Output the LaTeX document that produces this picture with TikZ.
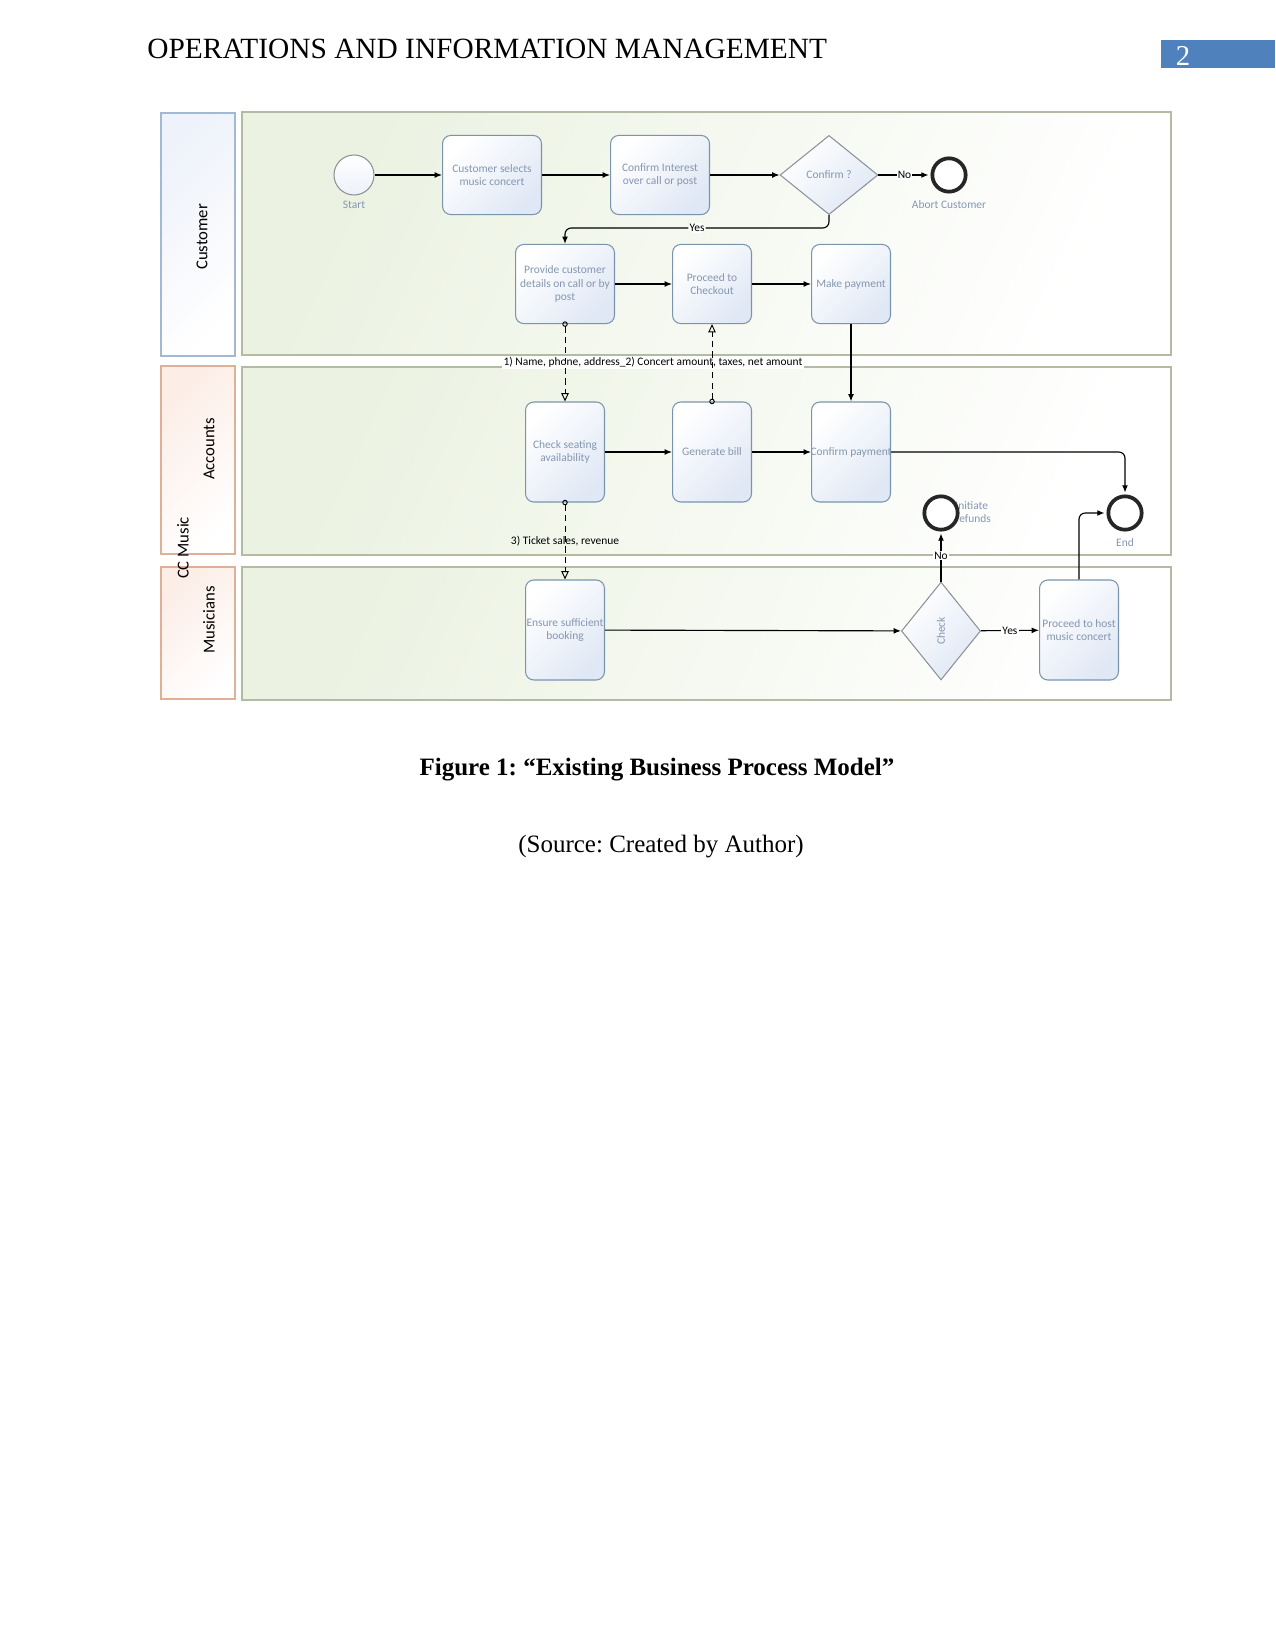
\documentclass[tikz,border=0pt]{standalone}
\usepackage{fontspec}
\setmainfont{Liberation Serif}
\newfontfamily\diagfont{Carlito}
\usetikzlibrary{arrows.meta,positioning,shapes.geometric}

\definecolor{nodetext}{HTML}{8597B0}
\definecolor{boxline}{HTML}{7A94AE}
\definecolor{boxfill}{HTML}{E0E8F5}
\definecolor{poolfill}{HTML}{EBF2E1}
\definecolor{poolline}{HTML}{B3BBA3}
\definecolor{custline}{HTML}{A3B8D3}
\definecolor{custfill}{HTML}{EEF2FA}
\definecolor{deptline}{HTML}{DDB197}
\definecolor{deptfill}{HTML}{FCEDE6}
\definecolor{gateline}{HTML}{8C9198}
\definecolor{hdrblue}{HTML}{4F81BD}

\begin{document}
\frenchspacing
\begin{tikzpicture}[x=0.48pt,y=-0.48pt,>={Latex[length=3.5pt,width=2.8pt]},
  small/.style={font=\diagfont\fontsize{5.5}{6.5}\selectfont},
  task/.style={small,draw=boxline,line width=0.5pt,rounded corners=4pt,
    top color=white,bottom color=boxfill,shading angle=45,text=nodetext,
    align=center,inner sep=1pt,minimum width=37.9pt,minimum height=48pt},
  taskshort/.style={task,minimum height=38pt},
  taskwide/.style={taskshort,minimum width=47.5pt},
  gate/.style={small,diamond,draw=gateline,line width=0.5pt,top color=white,
    bottom color=boxfill,shading angle=45,text=nodetext,inner sep=0pt},
  startev/.style={circle,draw=gateline,line width=0.5pt,top color=white,
    bottom color=boxfill!60,minimum size=19.2pt,inner sep=0pt},
  endev/.style={circle,draw=black!85,line width=1.8pt,fill=white,minimum size=16pt,inner sep=0pt},
  evlbl/.style={small,text=nodetext,inner sep=0pt},
  flowlbl/.style={small,fill=white,inner sep=0.6pt},
  msglbl/.style={small,inner sep=0.6pt},
  flow/.style={->,line width=0.55pt},
  msg/.style={dash pattern=on 3pt off 2pt,line width=0.45pt,
    {Circle[open,length=2.6pt]}-{Triangle[open,length=4pt,width=3.6pt]},shorten <=-1.3pt},
  lanelbl/.style={font=\diagfont\fontsize{8}{9}\selectfont,rotate=90,inner sep=0pt},
  pool/.style={draw=poolline,line width=0.6pt,top color=poolfill,bottom color=white,shading angle=65},
  custlane/.style={draw=custline,line width=0.6pt,top color=custfill,bottom color=white,shading angle=45},
  deptlane/.style={draw=deptline,line width=0.6pt,top color=deptfill,bottom color=white,shading angle=45}]

\fill[white] (0,0) rectangle (1275,1650);
\useasboundingbox (0,0) rectangle (1275,1650);

\node[anchor=base west,inner sep=0pt,font=\fontsize{14.1}{16}\selectfont] (header) at (147,59) {OPERATIONS AND INFORMATION MANAGEMENT};
\fill[hdrblue] (1161,40) rectangle (1275,68);
\node[text=white,inner sep=0pt,font=\fontsize{13.8}{16}\selectfont] (pagenum) at (1183,56) {2};

\path[pool] (242,112) rectangle (1171,355);
\path[pool] (242,367) rectangle (1171,555);
\path[pool] (242,567) rectangle (1171,700);
\path[custlane] (161,113) rectangle (235,356);
\path[deptlane] (161,366) rectangle (235,554);
\path[deptlane] (161,567) rectangle (235,699);
\node[lanelbl] (custname) at (202,237) {Customer};
\node[lanelbl] (accname) at (209,449) {Accounts};
\node[lanelbl] (musname) at (209,620) {Musicians};
\node[lanelbl] (ccname) at (183,548) {CC Music};

\node[msglbl,fill=white,anchor=south] (datalbl) at (653,369) {1) Name, phone, address\_2) Concert amount, taxes, net amount};
\node[msglbl] (salelbl) at (565,541) {3) Ticket sales, revenue};

\node[startev] (start) at (354,175) {};
\node[evlbl,below=2.5pt of start] (startlbl) {Start};
\node[taskwide] (selects) at (492,175) {Customer selects\\music concert};
\node[taskwide] (interest) at (660,175) {Confirm Interest\\over call or post};
\node[gate,minimum width=47pt,minimum height=38pt] (confirm) at (829,175) {Confirm ?};
\node[endev] (abort) at (949,175) {};
\node[evlbl,below=3pt of abort] (abortlbl) {Abort Customer};
\coordinate (yesbend) at (565,228);

\node[taskwide] (details) at (565,284) {Provide customer\\details on call or by\\post};
\node[taskshort] (checkout) at (712,284) {Proceed to\\Checkout};
\node[taskshort] (payment) at (851,284) {Make payment};

\node[task] (seating) at (565,452) {Check seating\\availability};
\node[task] (bill) at (712,452) {Generate bill};
\node[task] (confpay) at (851,452) {\makebox[0pt]{Confirm payment}};
\node[evlbl,anchor=west,align=left] (refundlbl) at (955,512) {Initiate\\refunds};
\node[endev] (refunds) at (941,513) {};
\node[endev] (end) at (1125,513) {};
\node[evlbl,below=3pt of end] (endlbl) {End};

\node[task] (booking) at (565,630) {\makebox[0pt]{Ensure sufficient}\\booking};
\node[gate,minimum width=38pt,minimum height=47pt] (check) at (941,631) {\rotatebox{90}{Check}};
\node[task] (host) at (1079,630) {Proceed to host\\music concert};

\draw[flow] (start) -- (selects);
\draw[flow] (selects) -- (interest);
\draw[flow] (interest) -- (confirm);
\draw[flow,shorten >=0.9pt] (confirm) -- node[flowlbl]{No} (abort);
\draw[flow,rounded corners=3pt] (confirm.south) |- node[flowlbl,pos=0.75]{Yes} (yesbend) -- (details.north);
\draw[flow] (details) -- (checkout);
\draw[flow] (checkout) -- (payment);
\draw[flow] (payment) -- (confpay);
\draw[flow] (seating) -- (bill);
\draw[flow] (bill) -- (confpay);
\draw[flow,rounded corners=3pt,shorten >=0.9pt] (confpay) -| (end);
\draw[flow] (booking) -- (check);
\draw[flow,shorten >=0.9pt] (check) -- node[flowlbl,pos=0.52]{No} (refunds);
\draw[flow] (check) -- node[flowlbl]{Yes} (host);
\draw[flow,rounded corners=3pt,shorten >=0.9pt] (host) |- (end);
\draw[msg] (details) -- (seating);
\draw[msg] (bill) -- (checkout);
\draw[msg] (seating) -- (booking);

\node[font=\bfseries\fontsize{12}{14}\selectfont] (caption) at (657,770) {Figure 1: “Existing Business Process Model”};
\node[font=\fontsize{12}{14}\selectfont] (source) at (661,847) {(Source: Created by Author)};
\end{tikzpicture}
\end{document}
